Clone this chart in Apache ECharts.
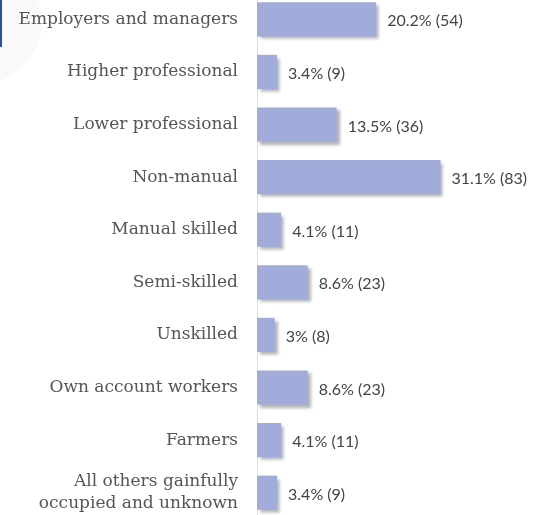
<!DOCTYPE html>
<html>
<head>
<meta charset="utf-8">
<script src="https://cdn.jsdelivr.net/npm/echarts@6/dist/echarts.min.js"></script>
<style>html,body{margin:0;padding:0;background:#fff}#c{width:547px;height:515px}</style>
</head>
<body>
<div id="c"></div>
<script>
const categories = ["Employers and managers","Higher professional","Lower professional","Non-manual","Manual skilled","Semi-skilled","Unskilled","Own account workers","Farmers","All others gainfully\noccupied and unknown"];
const percents = [20.2, 3.4, 13.5, 31.1, 4.1, 8.6, 3, 8.6, 4.1, 3.4];
const counts = [54, 9, 36, 83, 11, 23, 8, 23, 11, 9];

const chart = echarts.init(document.getElementById('c'), null, {renderer: 'canvas'});
chart.setOption({
  animation: false,
  backgroundColor: '#fff',
  graphic: [
    {type: 'circle', shape: {cx: -20, cy: 22, r: 62}, style: {fill: '#f9f9fa'}, z: -10},
    {type: 'rect', shape: {x: 0, y: 0, width: 2, height: 47}, style: {fill: '#2b4f9e'}, z: 10}
  ],
  grid: {left: 257, width: 236, top: -7, height: 526, containLabel: false, outerBoundsMode: 'none'},
  xAxis: {type: 'value', min: 0, max: 40, show: false},
  yAxis: {
    type: 'category', inverse: true, data: categories,
    axisLine: {show: true, lineStyle: {color: '#dcdcdc', width: 1}},
    axisTick: {show: false},
    axisLabel: {margin: 19, fontFamily: 'DejaVu Serif', fontSize: 17, color: '#555', lineHeight: 22, align: 'right'}
  },
  series: [{
    type: 'bar', data: percents, barCategoryGap: '35%',
    itemStyle: {color: '#a2acda', shadowColor: 'rgba(0,0,0,0.3)', shadowBlur: 3, shadowOffsetX: 3, shadowOffsetY: 3},
    label: {
      show: true, position: 'right', distance: 11, offset: [0, 2],
      fontFamily: 'Lato', fontSize: 16, color: '#444',
      formatter: p => p.value + '% (' + counts[p.dataIndex] + ')'
    }
  }]
});
</script>
</body>
</html>
